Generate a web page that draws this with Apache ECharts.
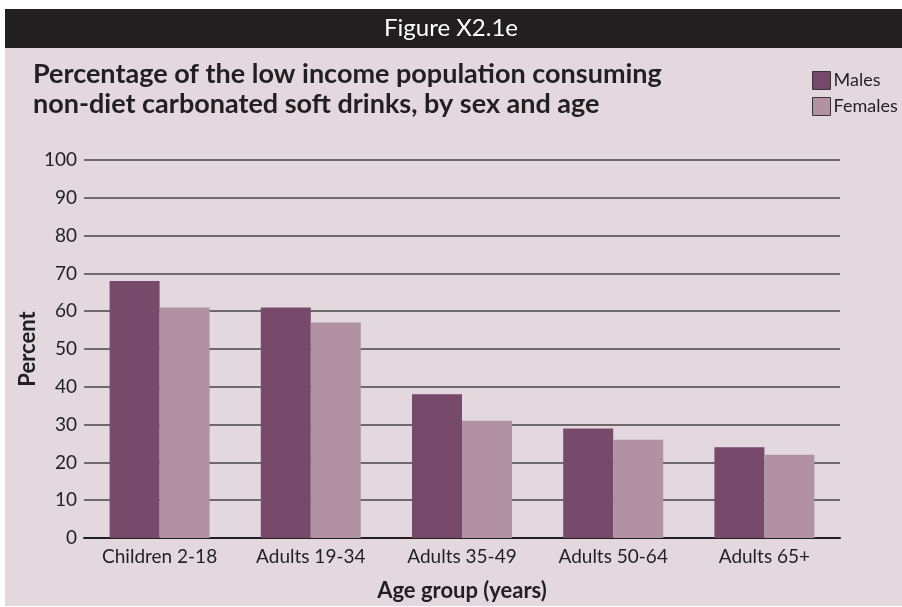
<!DOCTYPE html>
<html>
<head>
<meta charset="utf-8">
<script src="https://cdn.jsdelivr.net/npm/echarts@6/dist/echarts.min.js"></script>
<style>
html,body{margin:0;padding:0;background:#ffffff;}
#chart{width:902px;height:607px;}
</style>
</head>
<body>
<div id="chart"></div>
<script>
var categories = ["Children 2-18", "Adults 19-34", "Adults 35-49", "Adults 50-64", "Adults 65+"];
var males = [68, 61, 38, 29, 24];
var females = [61, 57, 31, 26, 22];
var yTicks = [0, 10, 20, 30, 40, 50, 60, 70, 80, 90, 100];

var FONT = "Lato, 'Open Sans', sans-serif";
var chart = echarts.init(document.getElementById('chart'), null, {renderer: 'canvas'});
var option = {
  backgroundColor: '#ffffff',
  animation: false,
  graphic: [
    {type: 'rect', z: -10, shape: {x: 5, y: 48, width: 897, height: 558}, style: {fill: '#e2d8de'}},
    {type: 'rect', z: -10, shape: {x: 5, y: 9, width: 897, height: 39}, style: {fill: '#231f20'}},
    {type: 'text', x: 451, y: 28, style: {text: 'Figure X2.1e', fill: '#ffffff', font: '24px ' + FONT, align: 'center', verticalAlign: 'middle'}},
    {type: 'text', left: 33, top: 59, style: {text: 'Percentage of the low income population consuming\nnon-diet carbonated soft drinks, by sex and age', fill: '#231f20', font: 'bold 27px ' + FONT, lineHeight: 30}}
  ],
  legend: {
    orient: 'vertical',
    left: 807,
    top: 66,
    itemWidth: 18,
    itemHeight: 18,
    itemGap: 7,
    icon: 'rect',
    itemStyle: {borderColor: '#3a3436', borderWidth: 1},
    textStyle: {fontFamily: FONT, fontSize: 18, color: '#231f20', padding: [0, 0, 0, -2]},
    data: ['Males', 'Females']
  },
  grid: {left: 84, right: 62, top: 160, bottom: 69, containLabel: false},
  xAxis: {
    type: 'category',
    data: categories,
    name: 'Age group (years)',
    nameLocation: 'middle',
    nameGap: 42,
    nameTextStyle: {fontFamily: FONT, fontWeight: 'bold', fontSize: 22, color: '#231f20'},
    axisLine: {lineStyle: {color: '#231f20', width: 2}},
    axisTick: {show: false},
    axisLabel: {fontFamily: FONT, fontSize: 19, color: '#231f20', margin: 9}
  },
  yAxis: {
    type: 'value',
    min: 0,
    max: 100,
    interval: 10,
    name: 'Percent',
    nameLocation: 'middle',
    nameGap: 45,
    nameMoveOverlap: false,
    nameTextStyle: {fontFamily: FONT, fontWeight: 'bold', fontSize: 22, color: '#231f20'},
    axisLine: {show: false},
    axisTick: {show: false},
    axisLabel: {fontFamily: FONT, fontSize: 19, color: '#231f20', margin: 7,
      formatter: function (v) { return yTicks.indexOf(v) >= 0 ? String(v) : ''; }},
    splitLine: {lineStyle: {color: '#4a4446', width: 1.5}}
  },
  series: [
    {name: 'Males', type: 'bar', data: males, barWidth: 50, barGap: '0%',
      itemStyle: {color: '#77496a'}},
    {name: 'Females', type: 'bar', data: females, barWidth: 50, barGap: '0%',
      itemStyle: {color: '#b292a2'}}
  ]
};
chart.setOption(option);
</script>
</body>
</html>
